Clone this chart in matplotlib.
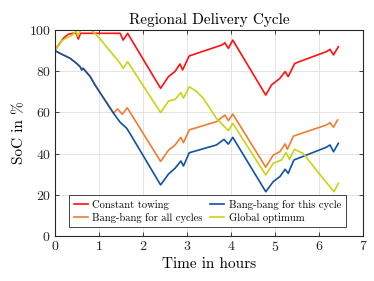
import matplotlib
matplotlib.use("Agg")
import matplotlib.pyplot as plt

red_t = [0, 0.19, 0.30, 0.40, 0.48, 0.53, 0.58, 1.48, 1.55, 1.65, 2.40, 2.58, 2.73, 2.84, 2.90, 3.05, 3.79, 3.86, 3.94, 4.04, 4.79, 4.92, 5.11, 5.23, 5.30, 5.45, 6.17, 6.25, 6.33, 6.44]
red_s = [90.3, 96, 97.9, 98.4, 98.4, 95.6, 98.4, 98.4, 95.1, 98.4, 71.7, 77.4, 79.9, 83.5, 80.6, 87.4, 92.7, 93.8, 91.1, 95.1, 68.4, 73.3, 76.5, 79.8, 77.4, 83.8, 89.5, 90.6, 87.9, 91.9]

blue_t = [0, 0.11, 0.34, 0.49, 0.57, 0.61, 0.64, 0.80, 0.91, 1.33, 1.48, 1.63, 1.70, 2.40, 2.58, 2.73, 2.86, 2.92, 3.05, 3.67, 3.84, 3.94, 4.04, 4.79, 4.96, 5.11, 5.23, 5.30, 5.43, 6.17, 6.25, 6.33, 6.44]
blue_s = [90, 88.7, 86.3, 83.8, 82.2, 80.6, 81.4, 77.4, 73.3, 59.6, 55.2, 52.3, 49.9, 24.8, 30.1, 32.9, 36.4, 34.0, 40.4, 44.2, 46.9, 44.6, 47.9, 21.5, 26.4, 28.8, 32.4, 30.4, 36.9, 43.1, 44.2, 40.9, 45.0]

orange_t = [0, 0.11, 0.34, 0.49, 0.57, 0.61, 0.64, 0.80, 0.91, 1.33, 1.42, 1.53, 1.64, 2.40, 2.58, 2.73, 2.86, 2.92, 3.05, 3.67, 3.86, 3.94, 4.04, 4.79, 4.96, 5.11, 5.23, 5.28, 5.42, 6.17, 6.25, 6.33, 6.42]
orange_s = [90, 88.7, 86.3, 83.8, 82.2, 80.6, 81.4, 77.4, 73.3, 59.6, 61.7, 59.1, 62.3, 36.2, 41.7, 44.2, 47.9, 45.3, 51.5, 55.5, 58.7, 56.0, 59.2, 33.4, 39.3, 40.9, 44.7, 42.1, 48.5, 53.9, 55.0, 52.8, 56.3]

yellow_t = [0, 0.15, 0.27, 0.38, 0.48, 0.52, 0.58, 0.83, 0.98, 1.48, 1.55, 1.65, 2.40, 2.58, 2.73, 2.86, 2.92, 3.05, 3.22, 3.37, 3.67, 3.94, 4.04, 4.79, 4.96, 5.15, 5.25, 5.33, 5.44, 5.64, 6.06, 6.25, 6.34, 6.44]
yellow_s = [90, 94.7, 96.3, 97.3, 99.5, 97.0, 100, 100, 96.8, 83.8, 81.4, 84.6, 59.9, 65.5, 66.3, 69.6, 66.9, 72.5, 70.1, 66.9, 57.1, 51.1, 54.7, 29.6, 35.3, 36.9, 40.5, 37.2, 42.1, 40.1, 28.8, 23.9, 21.5, 25.6]

labels = ["Constant towing", "Bang-bang for all cycles", "Bang-bang for this cycle", "Global optimum"]
x_ticks = [0, 1, 2, 3, 4, 5, 6, 7]
y_ticks = [0, 20, 40, 60, 80, 100]

plt.rcParams['font.family'] = ['cmr10', 'DejaVu Serif']
plt.rcParams['axes.formatter.use_mathtext'] = True

fig = plt.figure(figsize=(3.74, 2.81), dpi=100)
ax = fig.add_axes([55/374, 45/281, 308/374, 206/281])

lw = 1.2
ax.plot(red_t, red_s, color='#FF1010', lw=lw, label=labels[0])
ax.plot(orange_t, orange_s, color='#EE7D32', lw=lw, label=labels[1])
ax.plot(blue_t, blue_s, color='#0F52A0', lw=lw, label=labels[2])
ax.plot(yellow_t, yellow_s, color='#C8D414', lw=lw, label=labels[3])

ax.set_xlim(0, 7)
ax.set_ylim(0, 100)
ax.set_xticks(x_ticks)
ax.set_yticks(y_ticks)
ax.grid(True, color='#E3E3E3', lw=0.7)
ax.set_axisbelow(True)
ax.tick_params(direction='in', top=True, right=True, labelsize=10, length=3, width=0.6, colors='#262626', pad=3)
for sp in ax.spines.values():
    sp.set_color('#262626')
    sp.set_linewidth(0.8)

ax.set_title("Regional Delivery Cycle", fontsize=11, pad=4)
ax.set_xlabel("Time in hours", fontsize=11, labelpad=2)
ax.set_ylabel("SoC in %", fontsize=11, labelpad=2)

leg = ax.legend(ncol=2, loc='lower center', bbox_to_anchor=(0.495, 0.042),
                fontsize=7.6, frameon=True, fancybox=False, edgecolor='#262626', framealpha=1,
                handlelength=1.35, handletextpad=0.4, columnspacing=0.7, borderpad=0.45, labelspacing=0.25,
                borderaxespad=0)
leg.get_frame().set_linewidth(0.6)

fig.savefig("out.png", dpi=100)
